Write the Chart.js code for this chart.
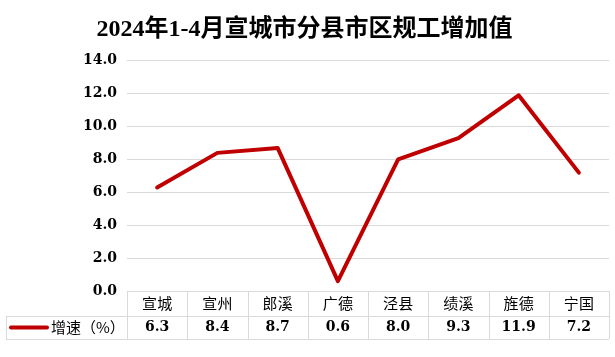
<!DOCTYPE html>
<html>
<head>
<meta charset="utf-8">
<script src="https://cdn.jsdelivr.net/npm/chart.js@4"></script>
<style>
  html, body { margin: 0; padding: 0; background: #fff; }
  #wrap { width: 615px; height: 357px; }
</style>
</head>
<body>
<div id="wrap"><canvas id="c" width="615" height="357"></canvas></div>
<script>
const titleText = "2024年1-4月宣城市分县市区规工增加值";
const categories = ["宣城", "宣州", "郎溪", "广德", "泾县", "绩溪", "旌德", "宁国"];
const seriesName = "增速（%）";
const growth = [6.3, 8.4, 8.7, 0.6, 8.0, 9.3, 11.9, 7.2];
const yTicks = [0, 2, 4, 6, 8, 10, 12, 14];

const LINE_COLOR = "#C00000";
const GRID_COLOR = "#d9d9d9";
const CJK = "'Noto Sans CJK SC', sans-serif";
const NUM = "'DejaVu Serif', serif";

const tablePlugin = {
  id: "dataTable",
  afterDraw(chart) {
    const ctx = chart.ctx;
    const xs = chart.scales.x;
    const area = chart.chartArea;
    const n = categories.length;
    const colW = xs.getPixelForValue(1) - xs.getPixelForValue(0);
    const left = xs.getPixelForValue(0) - colW / 2;
    const right = xs.getPixelForValue(n - 1) + colW / 2;
    const top = area.bottom;
    const mid = top + 25;
    const bottom = top + 48;
    const tableLeft = 6;

    ctx.save();
    ctx.strokeStyle = GRID_COLOR;
    ctx.lineWidth = 1;
    ctx.beginPath();
    for (let i = 0; i <= n; i++) {
      const x = Math.round(left + i * colW) + 0.5;
      ctx.moveTo(x, top);
      ctx.lineTo(x, bottom);
    }
    ctx.moveTo(tableLeft + 0.5, mid);
    ctx.lineTo(tableLeft + 0.5, bottom);
    ctx.moveTo(tableLeft, Math.round(mid) + 0.5);
    ctx.lineTo(right, Math.round(mid) + 0.5);
    ctx.moveTo(tableLeft, Math.round(bottom) + 0.5);
    ctx.lineTo(right, Math.round(bottom) + 0.5);
    ctx.stroke();

    ctx.fillStyle = "#000";
    ctx.textAlign = "center";
    ctx.textBaseline = "middle";
    ctx.font = "15px " + CJK;
    categories.forEach((c, i) => {
      ctx.fillText(c, xs.getPixelForValue(i), top + 12.5);
    });
    ctx.font = "bold 14px " + NUM;
    growth.forEach((v, i) => {
      ctx.fillText(v.toFixed(1), xs.getPixelForValue(i), mid + 11.5);
    });

    // legend key
    ctx.strokeStyle = LINE_COLOR;
    ctx.lineWidth = 4;
    ctx.lineCap = "round";
    ctx.beginPath();
    ctx.moveTo(11, mid + 11.5);
    ctx.lineTo(47, mid + 11.5);
    ctx.stroke();
    ctx.textAlign = "left";
    ctx.font = "15px " + CJK;
    ctx.fillText(seriesName, 51, mid + 11.5);
    ctx.restore();
  }
};

new Chart(document.getElementById("c"), {
  type: "line",
  data: {
    labels: categories,
    datasets: [{
      label: seriesName,
      data: growth,
      borderColor: LINE_COLOR,
      backgroundColor: LINE_COLOR,
      borderWidth: 4,
      pointRadius: 0,
      tension: 0,
      borderCapStyle: "round",
      borderJoinStyle: "round"
    }]
  },
  options: {
    responsive: false,
    animation: false,
    layout: { padding: { left: 0, right: 6, top: 0, bottom: 18 } },
    plugins: {
      legend: { display: false },
      tooltip: { enabled: false },
      title: {
        display: true,
        text: titleText,
        color: "#000",
        font: { family: "'Liberation Serif', 'Noto Sans CJK SC', serif", size: 24, weight: "bold" },
        padding: { top: 15, bottom: 17 }
      }
    },
    scales: {
      x: {
        type: "category",
        offset: true,
        grid: { display: false },
        border: { display: false },
        ticks: { display: false },
        afterFit(scale) { scale.height = 48; }
      },
      y: {
        min: 0,
        max: 14,
        afterBuildTicks(scale) { scale.ticks = yTicks.map(v => ({ value: v })); },
        grid: { color: GRID_COLOR, drawTicks: false },
        border: { display: false },
        ticks: {
          color: "#000",
          padding: 10,
          font: { family: NUM, size: 14, weight: "bold" },
          callback: v => Number(v).toFixed(1)
        },
        afterFit(scale) { scale.width = 127; }
      }
    }
  },
  plugins: [tablePlugin]
});
</script>
</body>
</html>
